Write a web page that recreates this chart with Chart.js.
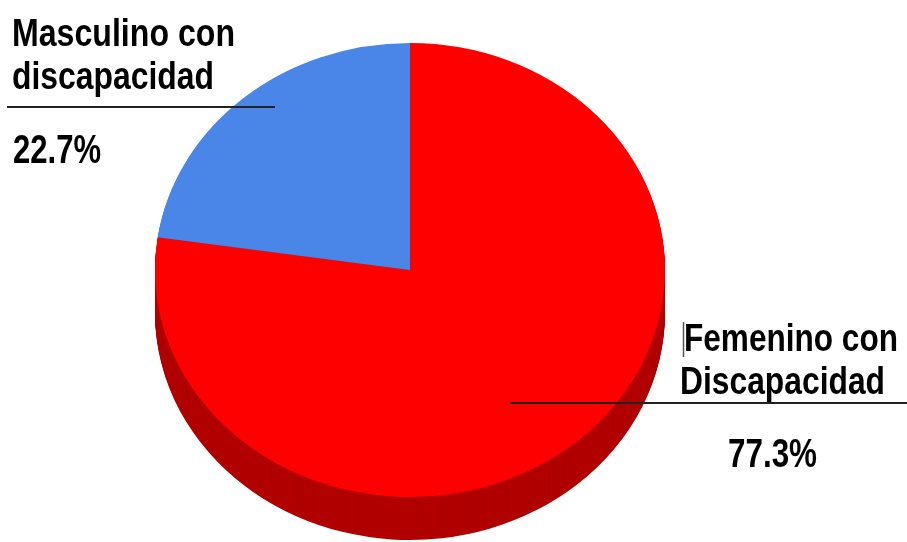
<!DOCTYPE html>
<html>
<head>
<meta charset="utf-8">
<script src="https://cdn.jsdelivr.net/npm/chart.js@4/dist/chart.umd.min.js"></script>
<style>
html,body{margin:0;padding:0;background:#fff;}
#wrap{width:907px;height:542px;position:relative;}
</style>
</head>
<body>
<div id="wrap"><canvas id="c" width="907" height="542"></canvas></div>
<script>
// Data (order drawn clockwise from 12 o'clock)
const categories = ['Femenino con Discapacidad', 'Masculino con discapacidad'];
const values = [77.3, 22.7];
const labelLines = [['Femenino con', 'Discapacidad'], ['Masculino con', 'discapacidad']];
const topColors = ['#ff0000', '#4a86e8'];
const sideColors = ['#b00000', '#2c5aa8'];

const RY_RATIO = 227 / 255;
const DEPTH = 43;

const pie3d = {
  id: 'pie3d',
  beforeDatasetsDraw(chart) {
    const ctx = chart.ctx;
    const meta = chart.getDatasetMeta(0);
    const el0 = meta.data[0];
    const cx = el0.x, cy = el0.y;
    // side (depth) layers
    for (let d = DEPTH; d >= 1; d--) {
      meta.data.forEach((el, i) => {
        const saved = el.options.backgroundColor;
        const savedB = el.options.borderColor;
        el.options.backgroundColor = sideColors[i];
        el.options.borderColor = sideColors[i];
        ctx.save();
        ctx.translate(cx, cy + d);
        ctx.scale(1, RY_RATIO);
        ctx.translate(-cx, -cy);
        el.draw(ctx, chart.chartArea);
        ctx.restore();
        el.options.backgroundColor = saved;
        el.options.borderColor = savedB;
      });
    }
    ctx.save();
    ctx.translate(cx, cy);
    ctx.scale(1, RY_RATIO);
    ctx.translate(-cx, -cy);
  },
  afterDatasetsDraw(chart) {
    chart.ctx.restore();
  },
  afterDraw(chart) {
    const ctx = chart.ctx;
    const total = values.reduce((a, b) => a + b, 0);
    const fam = "'Liberation Sans Narrow','Arial Narrow','Liberation Sans',Arial,sans-serif";
    function fitText(txt, x, y, w, size) {
      ctx.save();
      ctx.font = 'bold ' + size + 'px ' + fam;
      const m = ctx.measureText(txt).width;
      ctx.translate(x, y);
      ctx.scale(w / m, 1);
      ctx.fillStyle = '#000';
      ctx.textBaseline = 'alphabetic';
      ctx.fillText(txt, 0, 0);
      ctx.restore();
    }
    function line(x1, y1, x2, y2, w, col) {
      ctx.save();
      ctx.strokeStyle = col; ctx.lineWidth = w;
      ctx.beginPath(); ctx.moveTo(x1, y1); ctx.lineTo(x2, y2); ctx.stroke();
      ctx.restore();
    }
    // Masculino label (index 1)
    fitText(labelLines[1][0], 12, 46, 223, 39);
    fitText(labelLines[1][1], 12, 89, 202, 39);
    line(7, 107, 275, 107, 2, '#222');
    fitText((values[1] / total * 100).toFixed(1) + '%', 13, 163, 88, 40);
    // Femenino label (index 0)
    fitText(labelLines[0][0], 684, 351, 214, 39);
    fitText(labelLines[0][1], 680, 394, 205, 39);
    line(510, 403, 907, 403, 2, '#222');
    fitText((values[0] / total * 100).toFixed(1) + '%', 728, 467, 89, 40);
    line(683.5, 322, 683.5, 357, 1.5, '#555');
  }
};

new Chart(document.getElementById('c'), {
  type: 'pie',
  data: {
    labels: categories,
    datasets: [{
      data: values,
      backgroundColor: topColors,
      borderWidth: 0,
      hoverOffset: 0
    }]
  },
  options: {
    responsive: false,
    animation: false,
    rotation: 0,
    layout: { padding: { left: 155, right: 242, top: 15, bottom: 17 } },
    plugins: { legend: { display: false }, tooltip: { enabled: false } },
    events: []
  },
  plugins: [pie3d]
});
</script>
</body>
</html>
